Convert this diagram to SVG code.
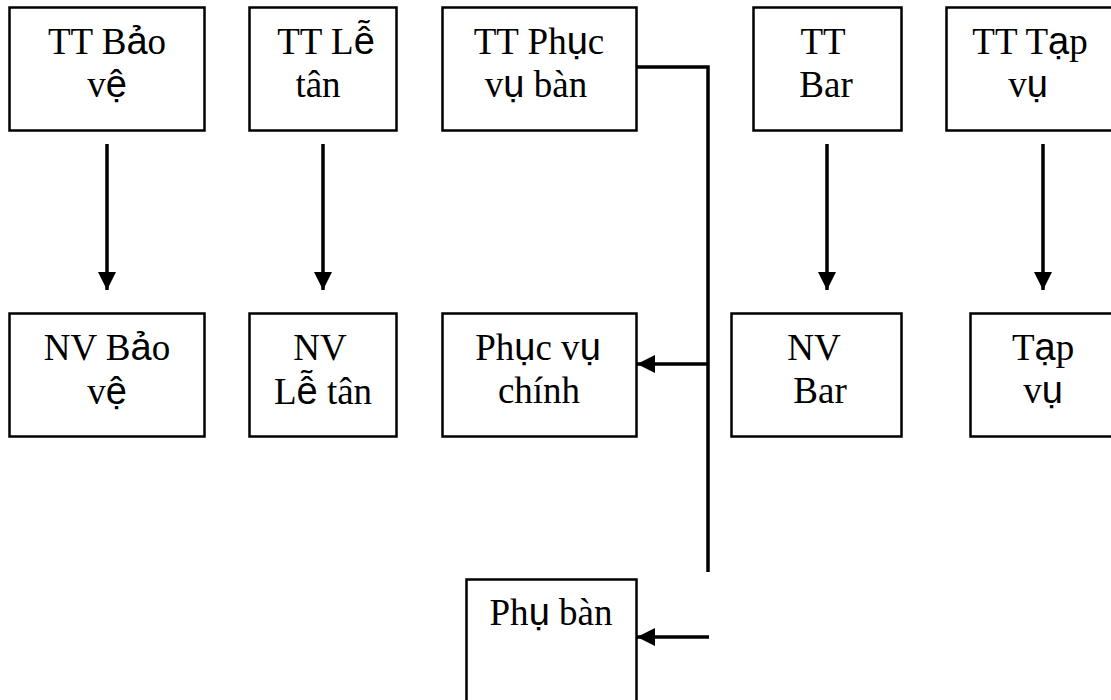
<svg xmlns="http://www.w3.org/2000/svg" width="1111" height="700" viewBox="0 0 1111 700">
  <style>
    .box { fill: #fff; stroke: #000; stroke-width: 2.5; }
    .lbl { font-family: "Liberation Serif", "Times New Roman", serif; font-size: 37px; fill: #000; text-anchor: middle; }
    .vn { font-family: "Liberation Sans", Arial, sans-serif; font-size: 38px; }
    .wire { fill: none; stroke: #000; stroke-width: 3.5; }
  </style>
  <defs>
    <marker id="arrow" markerUnits="userSpaceOnUse" markerWidth="20" markerHeight="20" viewBox="0 0 20 20" refX="18" refY="10" orient="auto">
      <path d="M0,1 L18,10 L0,19 z" fill="#000"/>
    </marker>
  </defs>

  <rect width="1111" height="700" fill="#fff"/>

  <!-- top row: team leaders -->
  <g id="tt-bao-ve">
    <rect class="box" x="9.5" y="7.5" width="195" height="123"/>
    <text class="lbl" x="107" y="54">TT B<tspan class="vn">ả</tspan>o</text>
    <text class="lbl" x="107" y="97">v<tspan class="vn">ệ</tspan></text>
  </g>
  <g id="tt-le-tan">
    <rect class="box" x="249.5" y="7.5" width="147" height="123"/>
    <text class="lbl" x="326" y="54">TT L<tspan class="vn">ễ</tspan></text>
    <text class="lbl" x="318" y="97">tân</text>
  </g>
  <g id="tt-phuc-vu-ban">
    <rect class="box" x="442.5" y="7.5" width="194" height="123"/>
    <text class="lbl" x="539" y="54">TT Ph<tspan class="vn">ụ</tspan>c</text>
    <text class="lbl" x="536" y="97">v<tspan class="vn">ụ</tspan> bàn</text>
  </g>
  <g id="tt-bar">
    <rect class="box" x="753.5" y="7.5" width="148" height="123"/>
    <text class="lbl" x="823" y="54">TT</text>
    <text class="lbl" x="826" y="97">Bar</text>
  </g>
  <g id="tt-tap-vu">
    <rect class="box" x="946.5" y="7.5" width="194" height="123"/>
    <text class="lbl" x="1030" y="54">TT T<tspan class="vn">ạ</tspan>p</text>
    <text class="lbl" x="1028" y="97">v<tspan class="vn">ụ</tspan></text>
  </g>

  <!-- second row: staff -->
  <g id="nv-bao-ve">
    <rect class="box" x="9.5" y="313.5" width="195" height="123"/>
    <text class="lbl" x="107" y="360">NV B<tspan class="vn">ả</tspan>o</text>
    <text class="lbl" x="107" y="404">v<tspan class="vn">ệ</tspan></text>
  </g>
  <g id="nv-le-tan">
    <rect class="box" x="249.5" y="313.5" width="147" height="123"/>
    <text class="lbl" x="320" y="360">NV</text>
    <text class="lbl" x="323" y="404">L<tspan class="vn">ễ</tspan> tân</text>
  </g>
  <g id="phuc-vu-chinh">
    <rect class="box" x="442.5" y="313.5" width="194" height="123"/>
    <text class="lbl" x="538" y="360">Ph<tspan class="vn">ụ</tspan>c v<tspan class="vn">ụ</tspan></text>
    <text class="lbl" x="539" y="403">chính</text>
  </g>
  <g id="nv-bar">
    <rect class="box" x="731.5" y="313.5" width="170" height="123"/>
    <text class="lbl" x="814" y="360">NV</text>
    <text class="lbl" x="820" y="403">Bar</text>
  </g>
  <g id="tap-vu">
    <rect class="box" x="970.5" y="313.5" width="146" height="123"/>
    <text class="lbl" x="1043" y="360">T<tspan class="vn">ạ</tspan>p</text>
    <text class="lbl" x="1043" y="403">v<tspan class="vn">ụ</tspan></text>
  </g>

  <!-- third row -->
  <g id="phu-ban">
    <rect class="box" x="466.5" y="579.5" width="170" height="140"/>
    <text class="lbl" x="551" y="625">Ph<tspan class="vn">ụ</tspan> bàn</text>
  </g>

  <!-- connectors -->
  <g id="connectors">
    <line class="wire" x1="107" y1="144" x2="107" y2="290" marker-end="url(#arrow)"/>
    <line class="wire" x1="323" y1="144" x2="323" y2="290" marker-end="url(#arrow)"/>
    <line class="wire" x1="827" y1="144" x2="827" y2="290" marker-end="url(#arrow)"/>
    <line class="wire" x1="1043" y1="144" x2="1043" y2="290" marker-end="url(#arrow)"/>
    <polyline class="wire" points="637,67 708,67 708,572"/>
    <line class="wire" x1="708" y1="364" x2="637" y2="364" marker-end="url(#arrow)"/>
    <line class="wire" x1="709" y1="637" x2="637" y2="637" marker-end="url(#arrow)"/>
  </g>
</svg>
